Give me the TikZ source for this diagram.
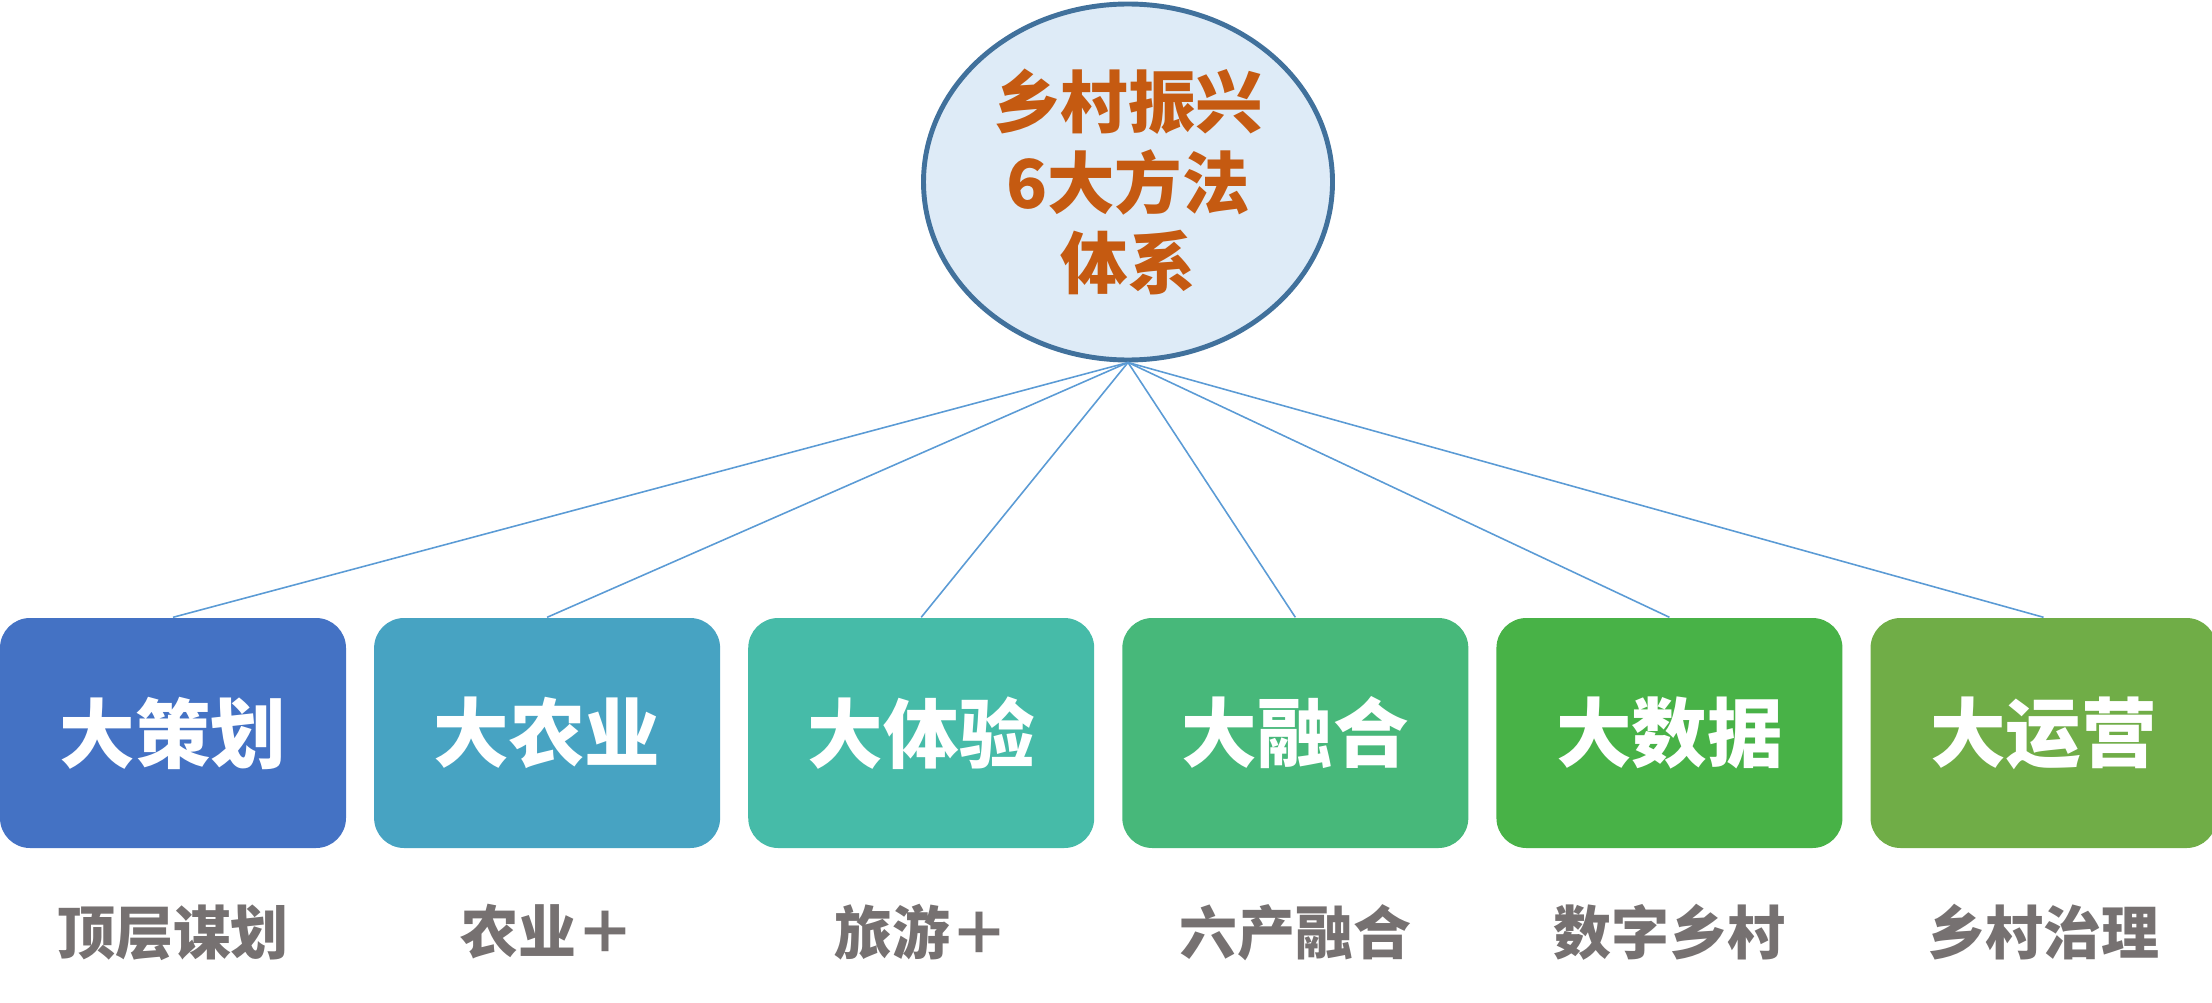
\documentclass[tikz,border=0pt]{standalone}
\usepackage{fontspec}
\setmainfont{Noto Sans CJK SC}
\usetikzlibrary{positioning, shapes.geometric}
\usepackage{xcolor}
\definecolor{HubFill}{HTML}{DEEBF7}
\definecolor{HubLine}{HTML}{41719C}
\definecolor{HubText}{HTML}{C55A11}
\definecolor{LinkBlue}{HTML}{5B9BD5}
\definecolor{SubGray}{HTML}{767171}
\definecolor{Plan}{HTML}{4472C4}
\definecolor{Agri}{HTML}{47A3C2}
\definecolor{Exper}{HTML}{46BBA8}
\definecolor{Fuse}{HTML}{47B87A}
\definecolor{Data}{HTML}{48B247}
\definecolor{Ops}{HTML}{70AD47}

\begin{document}
\begin{tikzpicture}[
    hub/.style={
        ellipse, draw=HubLine, line width=1.4pt, fill=HubFill,
        minimum width=4.09cm, minimum height=3.56cm, inner sep=0pt,
        align=center, text=HubText,
        font=\fontsize{19.2}{22.8}\selectfont\bfseries
    },
    method/.style={
        rounded corners=0.3cm, minimum width=3.46cm, minimum height=2.3cm,
        inner sep=0pt, text=white,
        font=\fontsize{21.5}{25}\selectfont\bfseries
    },
    sub/.style={text=SubGray, inner sep=0pt,
        font=\fontsize{16.5}{19}\selectfont\bfseries},
    link/.style={draw=LinkBlue, line width=0.45pt}
]

\useasboundingbox (0,0) rectangle (22.12,-10.02);

% =============================================
% TOP: the system
% =============================================
\node[hub] (hub) at (11.28,-1.82) {乡村振兴\\6大方法\\体系};

% =============================================
% MIDDLE ROW: six methods
% =============================================
\node[method, fill=Plan] (plan) at (1.73,-7.33) {大策划};
\node[method, fill=Agri, right=0.267cm of plan] (agri) {大农业};
\node[method, fill=Exper, right=0.267cm of agri] (exper) {大体验};
\node[method, fill=Fuse, right=0.267cm of exper] (fuse) {大融合};
\node[method, fill=Data, right=0.267cm of fuse] (data) {大数据};
\node[method, fill=Ops, right=0.267cm of data] (ops) {大运营};

\foreach \m in {plan, agri, exper, fuse, data, ops}
    \draw[link] (hub.south) -- (\m.north);

% =============================================
% BOTTOM ROW: what each one means
% =============================================
\node[sub, below=0.55cm of plan] (planSub) {顶层谋划};
\node[sub, below=0.55cm of agri] (agriSub) {农业＋};
\node[sub, below=0.55cm of exper] (experSub) {旅游＋};
\node[sub, below=0.55cm of fuse] (fuseSub) {六产融合};
\node[sub, below=0.55cm of data] (dataSub) {数字乡村};
\node[sub, below=0.55cm of ops] (opsSub) {乡村治理};

\end{tikzpicture}
\end{document}
